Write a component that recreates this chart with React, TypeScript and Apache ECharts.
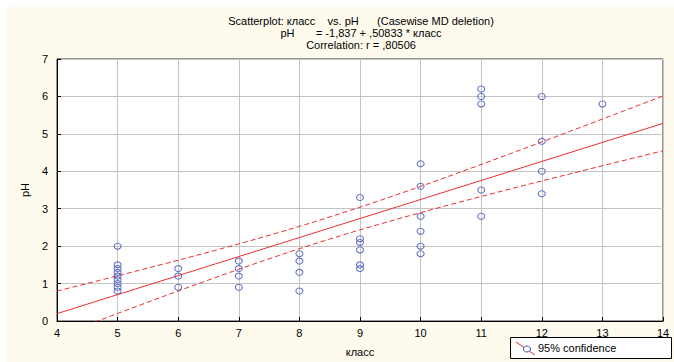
import React, { useEffect, useRef } from "react";
import * as echarts from "echarts";

// Observed data: grade (класс) and pH
const xs5 = [2.0, 1.5, 1.4, 1.3, 1.2, 1.1, 1.0, 0.9, 0.8];
const xs6 = [1.4, 1.2, 0.9];
const xs7 = [1.6, 1.4, 1.2, 0.9];
const xs8 = [1.8, 1.6, 1.3, 0.8];
const xs9 = [3.3, 2.2, 2.1, 1.9, 1.5, 1.4];
const xs10 = [4.2, 3.6, 2.8, 2.4, 2.0, 1.8];
const xs11 = [6.2, 6.0, 5.8, 3.5, 2.8];
const xs12 = [6.0, 4.8, 4.0, 3.4];
const xs13 = [5.8];
const groups: [number, number[]][] = [
  [5, xs5], [6, xs6], [7, xs7], [8, xs8], [9, xs9],
  [10, xs10], [11, xs11], [12, xs12], [13, xs13],
];

// Regression statistics reported in the title
const intercept = -1.837;
const slope = 0.50833;
const corrR = 0.80506;
const tCrit = 2.021;

const xTicks = [4, 5, 6, 7, 8, 9, 10, 11, 12, 13, 14];
const yTicks = [0, 1, 2, 3, 4, 5, 6, 7];

const titleLines = [
  "Scatterplot: класс    vs. pH      (Casewise MD deletion)",
  "pH       = -1,837 + ,50833 * класс",
  "Correlation: r = ,80506",
];
const xName = "класс";
const yName = "pH";
const legendLabel = "95% confidence";

export default function App() {
  const ref = useRef<HTMLDivElement>(null);
  useEffect(() => {
    if (!ref.current) return;
    const chart = echarts.init(ref.current, undefined, { renderer: "svg" });

    const points: number[][] = [];
    groups.forEach(([x, ys]) => ys.forEach((y) => points.push([x, y])));
    const n = points.length;
    const mx = points.reduce((s, p) => s + p[0], 0) / n;
    const sxx = points.reduce((s, p) => s + (p[0] - mx) ** 2, 0);
    // residual variance implied by the reported slope and correlation
    const sse = (slope * slope * sxx * (1 - corrR * corrR)) / (corrR * corrR);
    const se = Math.sqrt(sse / (n - 2));

    const fit: number[][] = [];
    const upper: number[][] = [];
    const lower: number[][] = [];
    for (let i = 0; i <= 100; i++) {
      const x = xTicks[0] + (i * (xTicks[xTicks.length - 1] - xTicks[0])) / 100;
      const yh = intercept + slope * x;
      const h = tCrit * se * Math.sqrt(1 / n + (x - mx) ** 2 / sxx);
      fit.push([x, yh]);
      upper.push([x, yh + h]);
      lower.push([x, yh - h]);
    }

    const font = "'Liberation Sans', Arial, sans-serif";
    const red = "#ee2a2a";

    chart.setOption({
      animation: false,
      backgroundColor: "transparent",
      grid: {
        left: 50,
        right: 11,
        top: 52,
        bottom: 40,
        show: true,
        backgroundColor: "#ffffff",
        borderColor: "#333",
        borderWidth: 1,
      },
      graphic: [
        ...titleLines.map((t, i) => ({
          type: "text",
          x: 354,
          y: 8 + i * 12,
          style: {
            text: t,
            fill: "#000",
            font: `11px ${font}`,
            textAlign: "center",
            textVerticalAlign: "top",
          },
        })),
        {
          type: "rect",
          shape: { x: 503.5, y: 330.5, width: 161, height: 21 },
          style: { fill: "#ffffff", stroke: "#000", lineWidth: 1 },
          z: 100,
        },
        {
          type: "line",
          shape: { x1: 509, y1: 335, x2: 528, y2: 348 },
          style: { stroke: red, lineWidth: 1 },
          z: 101,
        },
        {
          type: "ellipse",
          shape: { cx: 520, cy: 342, rx: 3.5, ry: 3 },
          style: { fill: "#fff", stroke: "#3b4fb8", lineWidth: 1 },
          z: 102,
        },
        {
          type: "text",
          x: 531,
          y: 341,
          style: {
            text: legendLabel,
            fill: "#000",
            font: `11px ${font}`,
            textVerticalAlign: "middle",
          },
          z: 102,
        },
      ],
      xAxis: {
        type: "value",
        min: 4,
        max: 14,
        interval: 1,
        name: xName,
        nameLocation: "middle",
        nameGap: 25,
        nameTextStyle: { fontFamily: font, fontSize: 11, color: "#000" },
        axisLine: { show: true, lineStyle: { color: "#000" } },
        axisTick: { show: true, inside: true, length: 4, lineStyle: { color: "#000" } },
        axisLabel: { fontFamily: font, fontSize: 11, color: "#000", margin: 6 },
        splitLine: { show: true, lineStyle: { color: "#c4c4c4", width: 1 } },
      },
      yAxis: {
        type: "value",
        min: 0,
        max: 7,
        interval: 1,
        name: yName,
        nameLocation: "middle",
        nameGap: 24,
        nameRotate: 90,
        nameTextStyle: { fontFamily: font, fontSize: 11, color: "#000" },
        axisLine: { show: true, lineStyle: { color: "#000" } },
        axisTick: { show: true, inside: true, length: 4, lineStyle: { color: "#000" } },
        axisLabel: { fontFamily: font, fontSize: 11, color: "#000", margin: 9 },
        splitLine: { show: true, lineStyle: { color: "#c4c4c4", width: 1 } },
      },
      series: [
        {
          type: "line",
          data: fit,
          showSymbol: false,
          lineStyle: { color: red, width: 1 },
          clip: true,
          silent: true,
        },
        {
          type: "line",
          data: upper,
          showSymbol: false,
          lineStyle: { color: red, width: 1, type: [5, 3] },
          clip: true,
          silent: true,
        },
        {
          type: "line",
          data: lower,
          showSymbol: false,
          lineStyle: { color: red, width: 1, type: [5, 3] },
          clip: true,
          silent: true,
        },
        {
          type: "scatter",
          data: points,
          symbol: "circle",
          symbolSize: [7, 6],
          itemStyle: {
            color: "rgba(255,255,255,0)",
            borderColor: "#3b4fb8",
            borderWidth: 1,
          },
          z: 5,
        },
      ],
    });
    return () => chart.dispose();
  }, []);

  return (
    <div
      style={{
        position: "absolute",
        left: 7,
        top: 7,
        width: 667,
        height: 355,
        background: "#fefaee",
      }}
    >
      <div ref={ref} style={{ width: 667, height: 355 }} />
    </div>
  );
}
